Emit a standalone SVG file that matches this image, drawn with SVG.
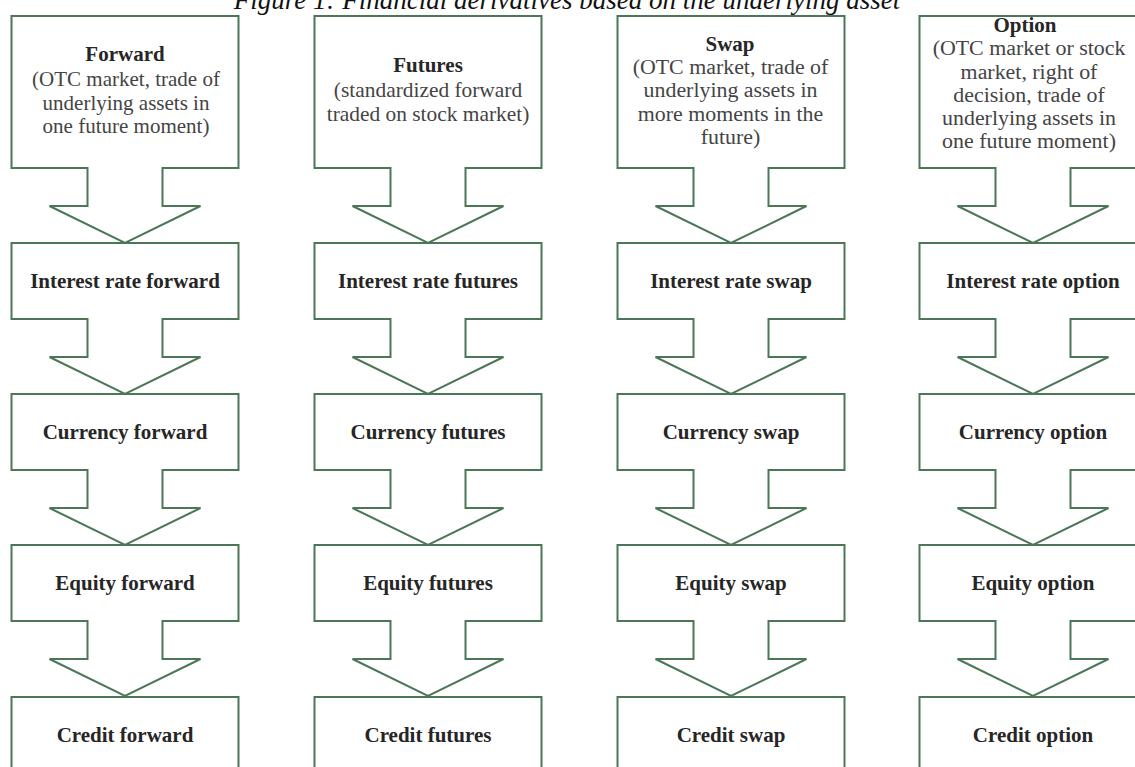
<svg xmlns="http://www.w3.org/2000/svg" width="1135" height="767" viewBox="0 0 1135 767">
  <style>
    .box { fill: #ffffff; stroke: #4b7757; stroke-width: 2; }
    .arrow { fill: #ffffff; stroke: #4b7757; stroke-width: 2; stroke-linejoin: miter; }
    .title { font-family: "Liberation Serif", "Times New Roman", serif; font-style: italic; font-size: 27px; fill: #111; text-anchor: middle; }
    .lbl { font-family: "Liberation Serif", "Times New Roman", serif; font-weight: bold; font-size: 21px; fill: #262626; text-anchor: middle; }
    .desc { font-family: "Liberation Serif", "Times New Roman", serif; font-size: 21px; fill: #444; text-anchor: middle; }
    .d-fut { font-size: 21.4px; }
    .d-wide { font-size: 21.9px; }
  </style>
  <rect width="1135" height="767" fill="#ffffff"/>

  <text class="title" x="567" y="9">Figure 1: Financial derivatives based on the underlying asset</text>

  <!-- Column 1: forwards (centre x=125) -->
  <g id="forward">
    <rect class="box" x="11.5" y="16" width="227" height="152"/>
    <text class="lbl" x="125" y="61">Forward</text>
    <text class="desc" x="126" y="86">(OTC market, trade of</text>
    <text class="desc" x="126" y="109.5">underlying assets in</text>
    <text class="desc" x="126" y="133">one future moment)</text>
  </g>
  <g id="ir-forward">
    <rect class="box" x="11.5" y="243" width="227" height="76"/>
    <text class="lbl" x="125" y="288">Interest rate forward</text>
  </g>
  <g id="fx-forward">
    <rect class="box" x="11.5" y="394" width="227" height="76"/>
    <text class="lbl" x="125" y="439">Currency forward</text>
  </g>
  <g id="eq-forward">
    <rect class="box" x="11.5" y="545" width="227" height="76"/>
    <text class="lbl" x="125" y="590">Equity forward</text>
  </g>
  <g id="cr-forward">
    <rect class="box" x="11.5" y="697" width="227" height="90"/>
    <text class="lbl" x="125" y="742">Credit forward</text>
  </g>

  <!-- Column 2: futures (centre x=428) -->
  <g id="futures">
    <rect class="box" x="314.5" y="16" width="227" height="152"/>
    <text class="lbl" x="428" y="72">Futures</text>
    <text class="desc d-fut" x="428" y="97">(standardized forward</text>
    <text class="desc d-fut" x="428" y="121">traded on stock market)</text>
  </g>
  <g id="ir-futures">
    <rect class="box" x="314.5" y="243" width="227" height="76"/>
    <text class="lbl" x="428" y="288">Interest rate futures</text>
  </g>
  <g id="fx-futures">
    <rect class="box" x="314.5" y="394" width="227" height="76"/>
    <text class="lbl" x="428" y="439">Currency futures</text>
  </g>
  <g id="eq-futures">
    <rect class="box" x="314.5" y="545" width="227" height="76"/>
    <text class="lbl" x="428" y="590">Equity futures</text>
  </g>
  <g id="cr-futures">
    <rect class="box" x="314.5" y="697" width="227" height="90"/>
    <text class="lbl" x="428" y="742">Credit futures</text>
  </g>

  <!-- Column 3: swaps (centre x=731) -->
  <g id="swap">
    <rect class="box" x="617.5" y="16" width="227" height="152"/>
    <text class="lbl" x="730" y="51">Swap</text>
    <text class="desc d-wide" x="730.5" y="74">(OTC market, trade of</text>
    <text class="desc d-wide" x="730.5" y="97">underlying assets in</text>
    <text class="desc d-wide" x="730.5" y="120.5">more moments in the</text>
    <text class="desc d-wide" x="730.5" y="144">future)</text>
  </g>
  <g id="ir-swap">
    <rect class="box" x="617.5" y="243" width="227" height="76"/>
    <text class="lbl" x="731" y="288">Interest rate swap</text>
  </g>
  <g id="fx-swap">
    <rect class="box" x="617.5" y="394" width="227" height="76"/>
    <text class="lbl" x="731" y="439">Currency swap</text>
  </g>
  <g id="eq-swap">
    <rect class="box" x="617.5" y="545" width="227" height="76"/>
    <text class="lbl" x="731" y="590">Equity swap</text>
  </g>
  <g id="cr-swap">
    <rect class="box" x="617.5" y="697" width="227" height="90"/>
    <text class="lbl" x="731" y="742">Credit swap</text>
  </g>

  <!-- Column 4: options (centre x=1033) -->
  <g id="option">
    <rect class="box" x="919.5" y="16" width="227" height="152"/>
    <text class="lbl" x="1025" y="32">Option</text>
    <text class="desc d-wide" x="1029" y="55">(OTC market or stock</text>
    <text class="desc d-wide" x="1029" y="78.5">market, right of</text>
    <text class="desc d-wide" x="1029" y="102">decision, trade of</text>
    <text class="desc d-wide" x="1029" y="125">underlying assets in</text>
    <text class="desc d-wide" x="1029" y="148">one future moment)</text>
  </g>
  <g id="ir-option">
    <rect class="box" x="919.5" y="243" width="227" height="76"/>
    <text class="lbl" x="1033" y="288">Interest rate option</text>
  </g>
  <g id="fx-option">
    <rect class="box" x="919.5" y="394" width="227" height="76"/>
    <text class="lbl" x="1033" y="439">Currency option</text>
  </g>
  <g id="eq-option">
    <rect class="box" x="919.5" y="545" width="227" height="76"/>
    <text class="lbl" x="1033" y="590">Equity option</text>
  </g>
  <g id="cr-option">
    <rect class="box" x="919.5" y="697" width="227" height="90"/>
    <text class="lbl" x="1033" y="742">Credit option</text>
  </g>

  <!-- Block arrows: shaft grows out of the box above, head touches the box below.
       Each is an open outline whose white fill hides the box edge under the shaft. -->
  <defs>
    <!-- arrow relative to the column centre, top at the bottom edge of the upper box -->
    <path id="blk" d="M -37.5,-1 V 38 H -75.5 L 0,75 L 75.5,38 H 37.5 V -1"/>
  </defs>
  <g id="connectors" class="arrow">
    <use href="#blk" x="125" y="168"/>
    <use href="#blk" x="125" y="319"/>
    <use href="#blk" x="125" y="470"/>
    <use href="#blk" x="125" y="621"/>

    <use href="#blk" x="428" y="168"/>
    <use href="#blk" x="428" y="319"/>
    <use href="#blk" x="428" y="470"/>
    <use href="#blk" x="428" y="621"/>

    <use href="#blk" x="731" y="168"/>
    <use href="#blk" x="731" y="319"/>
    <use href="#blk" x="731" y="470"/>
    <use href="#blk" x="731" y="621"/>

    <use href="#blk" x="1033" y="168"/>
    <use href="#blk" x="1033" y="319"/>
    <use href="#blk" x="1033" y="470"/>
    <use href="#blk" x="1033" y="621"/>
  </g>
</svg>
